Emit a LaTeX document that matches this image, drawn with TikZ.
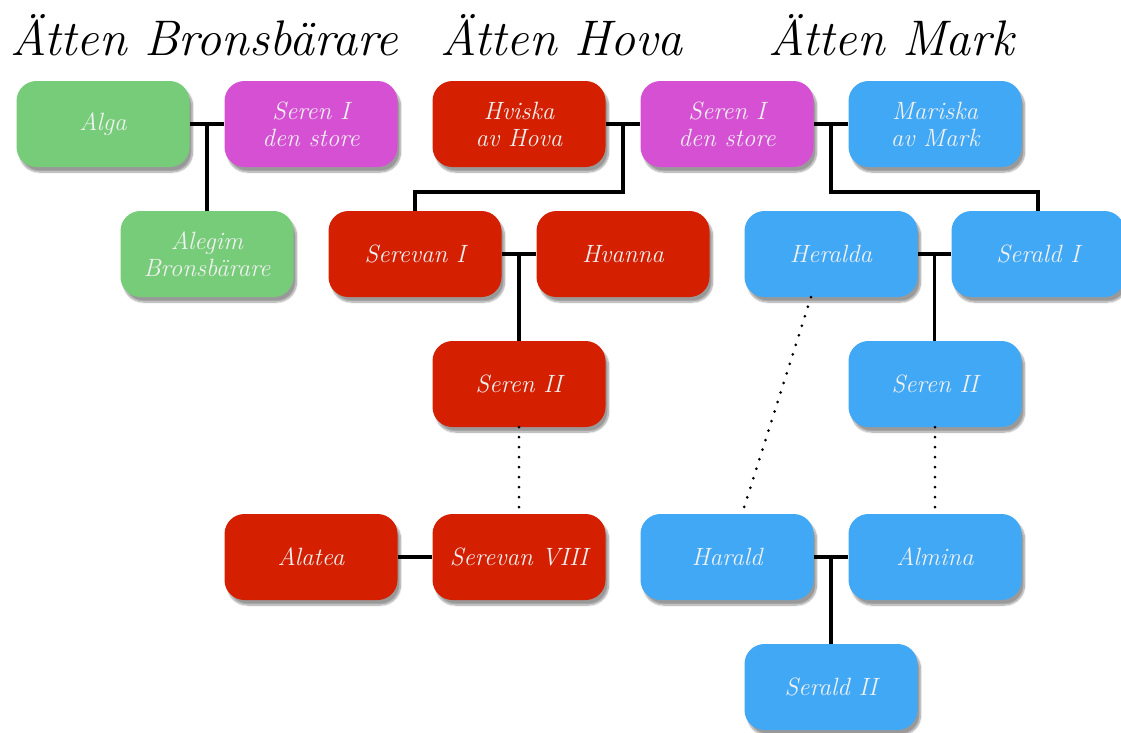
\documentclass[tikz,border=0pt]{standalone}
\usetikzlibrary{calc,shadows.blur}
\definecolor{grona}{RGB}{118,204,120}
\definecolor{lila}{RGB}{214,80,212}
\definecolor{roda}{RGB}{212,32,0}
\definecolor{bla}{RGB}{64,168,245}
\begin{document}
\begin{tikzpicture}[x=1pt,y=-1pt,
  person/.style={rounded corners=20pt,minimum width=173pt,minimum height=86pt,
    align=center,text=white!94!black,font=\fontsize{25}{27}\selectfont\itshape,
    blur shadow={shadow xshift=3pt,shadow yshift=-5pt,shadow opacity=40,shadow blur steps=10}},
  atten/.style={font=\fontsize{50}{54}\selectfont\itshape,text=black,anchor=base west,inner sep=0pt},
  band/.style={line width=3.2pt,black},
  aning/.style={line width=3pt,black,dash pattern=on 0pt off 10pt,line cap=round}]
\useasboundingbox (0,0) rectangle (1121,732);

% rubriker
\node[atten] (tBrons) at (10,55) {Ätten Bronsbärare};
\node[atten] (tHova) at (440,55) {Ätten Hova};
\node[atten] (tMark) at (768,55) {Ätten Mark};

% rad 1
\node[person,fill=grona] (Alga) at (103,124) {Alga};
\node[person,fill=lila] (SerenA) at (311,124) {Seren I\\den store};
\node[person,fill=roda] (Hviska) at (519,124) {Hviska\\av Hova};
\node[person,fill=lila] (SerenB) at (727,124) {Seren I\\den store};
\node[person,fill=bla] (Mariska) at (935,124) {Mariska\\av Mark};

% rad 2
\node[person,fill=grona] (Alegim) at (207,254) {Alegim\\Bronsbärare};
\node[person,fill=roda] (SerevanA) at (415,254) {Serevan I};
\node[person,fill=roda] (Hvanna) at (623,254) {Hvanna};
\node[person,fill=bla] (Heralda) at (831,254) {Heralda};
\node[person,fill=bla] (SeraldA) at (1038,254) {Serald I};

% rad 3
\node[person,fill=roda] (SerenR) at (519,384) {Seren II};
\node[person,fill=bla] (SerenM) at (935,384) {Seren II};

% rad 4
\node[person,fill=roda] (Alatea) at (311,557) {Alatea};
\node[person,fill=roda] (SerevanH) at (519,557) {Serevan VIII};
\node[person,fill=bla] (Harald) at (727,557) {Harald};
\node[person,fill=bla] (Almina) at (935,557) {Almina};

% rad 5
\node[person,fill=bla] (SeraldB) at (831,687) {Serald II};

% giften
\coordinate (g1) at ($(Alga.east)!.5!(SerenA.west)$);
\coordinate (g2) at ($(Hviska.east)!.5!(SerenB.west)$);
\coordinate (g3) at ($(SerenB.east)!.5!(Mariska.west)$);
\coordinate (g4) at ($(SerevanA.east)!.5!(Hvanna.west)$);
\coordinate (g5) at ($(Heralda.east)!.5!(SeraldA.west)$);
\coordinate (g6) at ($(Harald.east)!.5!(Almina.west)$);

\draw[band] (Alga.east) -- (SerenA.west);
\draw[band] (Hviska.east) -- (SerenB.west);
\draw[band] (SerenB.east) -- (Mariska.west);
\draw[band] (SerevanA.east) -- (Hvanna.west);
\draw[band] (Heralda.east) -- (SeraldA.west);
\draw[band] (Harald.east) -- (Almina.west);
\draw[band] (Alatea.east) -- (SerevanH.west);

% barn
\draw[band] (g1) -- (g1 |- Alegim.north);
\draw[band] (g2) -- ++(0,68) -| (SerevanA.north);
\draw[band] (g3) -- ++(0,68) -| (SeraldA.north);
\draw[band] (g4) -- (g4 |- SerenR.north);
\draw[band] (g5) -- (g5 |- SerenM.north);
\draw[band] (g6) -- (g6 |- SeraldB.north);

% senare led
\draw[aning] (SerenR.south) -- (SerevanH.north);
\draw[aning] (SerenM.south) -- (Almina.north);
\draw[aning] ([xshift=-20pt]Heralda.south) -- ([xshift=15pt]Harald.north);
\end{tikzpicture}
\end{document}
